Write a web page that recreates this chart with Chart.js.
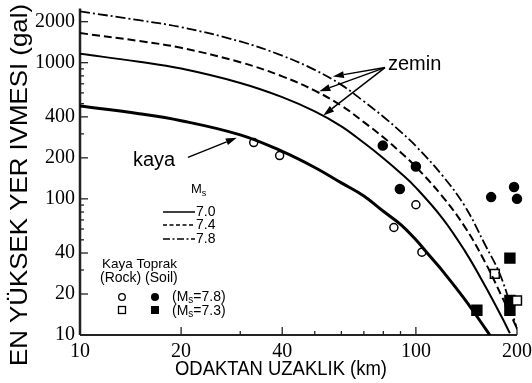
<!DOCTYPE html>
<html>
<head>
<meta charset="utf-8">
<title>En yüksek yer ivmesi - odaktan uzaklık</title>
<script src="https://cdn.jsdelivr.net/npm/chart.js@4/dist/chart.umd.min.js"></script>
<style>
  html, body { margin: 0; padding: 0; background: #fff; }
  canvas { display: block; }
</style>
</head>
<body>
<canvas id="chart" width="532" height="383"></canvas>
<script>
// Axis ticks (km, gal)
const distTicks = [10, 20, 30, 40, 50, 60, 70, 80, 90, 100, 200];
const distLabels = [10, 20, 40, 100, 200];
const accTicks = [10, 20, 30, 40, 50, 60, 70, 80, 90, 100, 200, 300, 400, 500, 600, 700, 800, 900, 1000, 2000];
const accLabels = [10, 20, 40, 100, 200, 400, 1000, 2000];

// Attenuation curves: distance (km) and peak acceleration (gal)
const kayaDist = [10, 15, 20, 30, 40, 50, 60, 70, 80, 90, 100, 110, 120, 140, 160, 166];
const kayaAcc  = [480, 422, 375, 295, 223, 170, 131, 105, 81, 65, 50, 38, 29.6, 18.2, 11.4, 10];

const ms70Dist = [10, 15, 20, 30, 40, 50, 60, 70, 80, 90, 100, 120, 140, 160, 180, 190.5];
const ms70Acc  = [1162, 1017, 905, 710, 559, 439, 341, 258, 199, 155, 121, 72, 41.3, 23.4, 13.6, 10.3];

const ms74Dist = [10, 15, 20, 30, 40, 50, 60, 70, 80, 90, 100, 120, 140, 160, 180, 200];
const ms74Acc  = [1650, 1444, 1285, 1008, 794, 623, 484, 366, 283, 220, 172, 104, 62, 35, 19.3, 11.2];

const ms78Dist = [10, 15, 20, 30, 40, 50, 60, 70, 80, 90, 100, 120, 140, 160, 180, 200];
const ms78Acc  = [2380, 2050, 1824, 1431, 1126, 885, 687, 520, 401, 312, 244, 148, 88, 47, 26, 11];

// Recorded peak accelerations
const rock78Dist = [32.9, 39.3, 86.0, 100, 104.2];
const rock78Acc  = [259, 208, 61.6, 90.5, 40.6];

const soil78Dist = [79.7, 89.6, 100, 167.5, 196, 200];
const soil78Acc  = [246, 118, 173, 103, 122, 100];

const rock73Dist = [171.8, 200];
const rock73Acc  = [28.1, 17.9];

const soil73Dist = [151.9, 190.5, 190.5, 190.5];
const soil73Acc  = [15.2, 36.7, 17.9, 15.2];

const SANS = '"Liberation Sans", Arial, Helvetica, sans-serif';
const SERIF = '"Liberation Serif", "Times New Roman", serif';

const pts = (xs, ys) => xs.map((x, i) => ({ x, y: ys[i] }));

function curve(label, xs, ys, width, dash) {
  return {
    label, data: pts(xs, ys), showLine: true,
    borderColor: '#000', borderWidth: width, borderDash: dash,
    pointRadius: 0, pointHoverRadius: 0,
    tension: 0.4, fill: false
  };
}

function marks(label, xs, ys, style, radius, filled) {
  return {
    label, data: pts(xs, ys), showLine: false,
    pointStyle: style, pointRadius: radius, pointHoverRadius: radius,
    pointBorderWidth: 1.5, pointBorderColor: '#000',
    pointBackgroundColor: filled ? '#000' : '#fff',
    clip: false
  };
}

function arrow(ctx, x1, y1, x2, y2, head, half) {
  const ang = Math.atan2(y2 - y1, x2 - x1);
  const bx = x2 - head * Math.cos(ang), by = y2 - head * Math.sin(ang);
  ctx.beginPath(); ctx.moveTo(x1, y1); ctx.lineTo(bx, by); ctx.stroke();
  ctx.beginPath();
  ctx.moveTo(x2, y2);
  ctx.lineTo(bx + half * Math.sin(ang), by - half * Math.cos(ang));
  ctx.lineTo(bx - half * Math.sin(ang), by + half * Math.cos(ang));
  ctx.closePath(); ctx.fill();
}

function fitText(ctx, text, cx, baseY, width) {
  const w = ctx.measureText(text).width;
  ctx.save();
  ctx.translate(cx, baseY);
  ctx.scale(width / w, 1);
  ctx.textAlign = 'center';
  ctx.textBaseline = 'alphabetic';
  ctx.fillText(text, 0, 0);
  ctx.restore();
}

function subText(ctx, x, y, pre, sub, post, size) {
  ctx.font = size + 'px ' + SANS;
  ctx.fillText(pre, x, y);
  let cx = x + ctx.measureText(pre).width;
  ctx.font = Math.round(size * 0.7) + 'px ' + SANS;
  ctx.fillText(sub, cx, y + 3);
  cx += ctx.measureText(sub).width;
  ctx.font = size + 'px ' + SANS;
  ctx.fillText(post, cx, y);
}

const framePlugin = {
  id: 'frame',
  beforeDatasetsDraw(chart) {
    const { ctx, chartArea: a } = chart;
    const xs = chart.scales.x, ys = chart.scales.y;
    ctx.save();
    ctx.strokeStyle = '#222';
    ctx.lineWidth = 2.5;
    ctx.beginPath(); ctx.moveTo(a.left, a.top); ctx.lineTo(a.left, a.bottom); ctx.stroke();
    ctx.lineWidth = 2;
    ctx.beginPath(); ctx.moveTo(a.left, a.bottom); ctx.lineTo(a.right, a.bottom); ctx.stroke();
    ctx.lineWidth = 1.3;
    accTicks.forEach(v => {
      const p = ys.getPixelForValue(v);
      const len = accLabels.includes(v) ? 8 : 4;
      ctx.beginPath(); ctx.moveTo(a.left, p); ctx.lineTo(a.left + len, p); ctx.stroke();
    });
    distTicks.forEach(v => {
      const p = xs.getPixelForValue(v);
      const len = distLabels.includes(v) ? 8 : 4;
      ctx.beginPath(); ctx.moveTo(p, a.bottom); ctx.lineTo(p, a.bottom - len); ctx.stroke();
    });
    ctx.restore();
  },
  afterDraw(chart) {
    const { ctx } = chart;
    const xs = chart.scales.x, ys = chart.scales.y;
    const P = (d, g) => [xs.getPixelForValue(d), ys.getPixelForValue(g)];
    ctx.save();
    ctx.fillStyle = '#000';
    ctx.strokeStyle = '#000';

    // axis titles
    ctx.font = '21px ' + SANS;
    fitText(ctx, 'ODAKTAN UZAKLIK (km)', 281, 375, 212);
    ctx.save();
    ctx.translate(27, 185);
    ctx.rotate(-Math.PI / 2);
    ctx.font = '24px ' + SANS;
    fitText(ctx, 'EN YÜKSEK YER IVMESI (gal)', 0, 0, 362);
    ctx.restore();

    // curve annotations
    ctx.font = '20px ' + SANS;
    ctx.textAlign = 'left';
    ctx.textBaseline = 'alphabetic';
    ctx.fillText('zemin', 388, 70);
    ctx.fillText('kaya', 133, 166);
    ctx.lineWidth = 1.5;
    const zs = P(80.9, 920);
    [[56.6, 792], [51.6, 616], [53.0, 410]].forEach(([d, g]) => {
      const e = P(d, g);
      arrow(ctx, zs[0], zs[1], e[0], e[1], 11, 3.5);
    });
    const ks = P(20.96, 201.5), ke = P(29.3, 281);
    arrow(ctx, ks[0], ks[1], ke[0], ke[1], 11, 3.5);

    // magnitude key
    subText(ctx, 191, 193, 'M', 's', '', 13);
    const keys = [
      { y: 212, dash: [], w: 1.5, t: '7.0' },
      { y: 225, dash: [4, 2.5], w: 1.5, t: '7.4' },
      { y: 239, dash: [7, 2.5, 2, 2.5], w: 1.5, t: '7.8' }
    ];
    ctx.font = '14px ' + SANS;
    keys.forEach(k => {
      ctx.lineWidth = k.w;
      ctx.setLineDash(k.dash);
      ctx.beginPath(); ctx.moveTo(163, k.y); ctx.lineTo(195, k.y); ctx.stroke();
      ctx.setLineDash([]);
      ctx.textBaseline = 'middle';
      ctx.fillText(k.t, 196, k.y);
    });

    // station key
    ctx.textBaseline = 'middle';
    ctx.font = '13.5px ' + SANS;
    ctx.fillText('Kaya Toprak', 102, 264);
    ctx.font = '14px ' + SANS;
    ctx.fillText('(Rock) (Soil)', 100, 278);
    ctx.lineWidth = 1.3;
    ctx.beginPath(); ctx.arc(122, 297, 3.3, 0, Math.PI * 2); ctx.stroke();
    ctx.beginPath(); ctx.arc(155, 297, 4, 0, Math.PI * 2); ctx.fill();
    ctx.strokeRect(118.5, 306.5, 7, 7);
    ctx.fillRect(151, 306, 8, 8);
    ctx.textBaseline = 'middle';
    subText(ctx, 172, 297, '(M', 's', '=7.8)', 14);
    subText(ctx, 172, 311, '(M', 's', '=7.3)', 14);
    ctx.restore();
  }
};

new Chart(document.getElementById('chart'), {
  type: 'scatter',
  data: {
    datasets: [
      curve('kaya', kayaDist, kayaAcc, 3, []),
      curve('Ms 7.0', ms70Dist, ms70Acc, 2, []),
      curve('Ms 7.4', ms74Dist, ms74Acc, 2, [8, 4]),
      curve('Ms 7.8', ms78Dist, ms78Acc, 1.8, [10, 3, 2, 3]),
      marks('Kaya Ms=7.8', rock78Dist, rock78Acc, 'circle', 4, false),
      marks('Toprak Ms=7.8', soil78Dist, soil78Acc, 'circle', 4.5, true),
      marks('Kaya Ms=7.3', rock73Dist, rock73Acc, 'rect', 6.3, false),
      marks('Toprak Ms=7.3', soil73Dist, soil73Acc, 'rect', 7, true)
    ]
  },
  options: {
    responsive: false,
    animation: false,
    devicePixelRatio: 1,
    layout: { padding: { left: 0, right: 15, top: 4, bottom: 0 } },
    plugins: { legend: { display: false }, tooltip: { enabled: false } },
    scales: {
      x: {
        type: 'logarithmic', min: 10, max: 200,
        grid: { display: false, drawTicks: false },
        border: { display: false },
        afterBuildTicks: s => { s.ticks = distTicks.map(v => ({ value: v })); },
        afterFit: s => { s.height = 48; s.paddingLeft = 0; s.paddingRight = 0; },
        ticks: {
          autoSkip: false, maxRotation: 0, minRotation: 0, padding: 5,
          color: '#000', font: { family: SERIF, size: 20 },
          callback: v => distLabels.includes(v) ? String(v) : ''
        }
      },
      y: {
        type: 'logarithmic', min: 10, max: 2500,
        grid: { display: false, drawTicks: false },
        border: { display: false },
        afterBuildTicks: s => { s.ticks = accTicks.map(v => ({ value: v })); },
        afterFit: s => { s.width = 80; s.paddingTop = 0; s.paddingBottom = 0; },
        ticks: {
          autoSkip: false, padding: 5,
          color: '#000', font: { family: SERIF, size: 20 },
          callback: v => accLabels.includes(v) ? String(v) : ''
        }
      }
    }
  },
  plugins: [framePlugin]
});
</script>
</body>
</html>
